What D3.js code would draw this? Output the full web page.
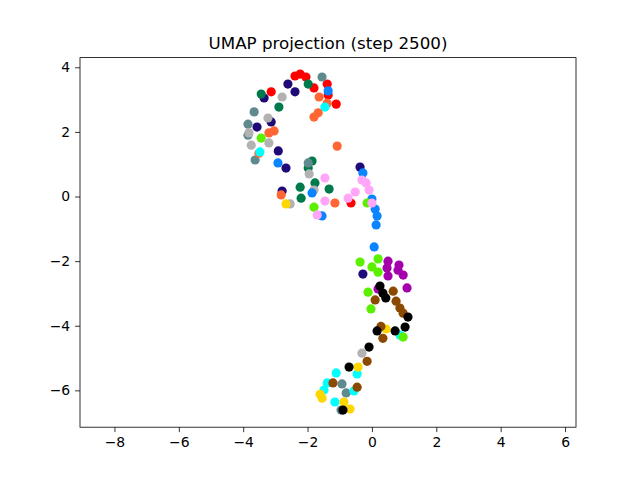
<!DOCTYPE html>
<html>
<head>
<meta charset="utf-8">
<script src="https://cdn.jsdelivr.net/npm/d3@7"></script>
<style>
  body { margin: 0; background: #fff; }
  svg { display: block; font-family: "DejaVu Sans", sans-serif; }
</style>
</head>
<body>
<svg id="chart" width="640" height="480"></svg>
<script>
const title = "UMAP projection (step 2500)";
const xTicks = [-8, -6, -4, -2, 0, 2, 4, 6];
const yTicks = [-6, -4, -2, 0, 2, 4];
const xDomain = [-9.07, 6.34];
const yDomain = [-7.14, 4.30];

const groups = ["red", "indigo", "green", "slate", "grey", "orange", "blue", "cyan", "lime", "pink", "magenta", "gold", "brown", "black"];

const redX = [-2.39, -2.23, -2.05, -1.80, -1.39, -1.36, -1.11, -3.13, -0.65];
const redY = [3.73, 3.79, 3.70, 3.36, 3.48, 3.14, 2.86, 3.24, -0.20];
const indigoX = [-2.61, -2.39, -3.35, -3.57, -3.13, -2.91, -2.67, -2.79, -0.37, -0.28];
const indigoY = [3.48, 3.24, 3.05, 2.15, 2.31, 1.41, 0.88, 0.17, 0.91, -2.40];
const greenX = [-1.98, -3.44, -2.89, -1.86, -1.98, -2.23, -1.77, -1.33, -2.20];
const greenY = [3.48, 3.17, 2.77, 1.10, 0.88, 0.29, 0.42, 0.23, -0.05];
const slateX = [-1.55, -3.66, -3.85, -3.85, -3.63, -1.98, -0.93, -0.80, -0.96];
const slateY = [3.70, 2.62, 2.24, 1.90, 1.13, 1.04, -5.80, -6.08, -6.61];
const greyX = [-2.79, -3.23, -3.82, -3.20, -3.75, -1.95, -1.80, -2.54, -0.31];
const greyY = [3.08, 2.43, 1.97, 1.66, 1.59, 0.70, 0.20, -0.23, -4.85];
const orangeX = [-1.64, -1.39, -1.67, -1.80, -1.08, -3.20, -3.04, -3.51, -2.82, -1.15];
const orangeY = [3.08, 2.89, 2.59, 2.46, 1.56, 1.97, 2.03, 1.34, 0.05, -0.20];
const blueX = [-1.36, -2.92, -1.86, -1.55, -0.28, 0.00, 0.10, 0.16, 0.13, 0.07];
const blueY = [3.27, 1.04, 0.11, -0.60, 0.73, -0.08, -0.39, -0.60, -0.88, -1.56];
const cyanX = [-1.46, -3.48, -1.11, -0.46, -1.39, -1.49, -0.56, -1.15, 0.87];
const cyanY = [2.77, 1.38, -5.46, -5.49, -5.77, -5.99, -6.02, -6.36, -4.29];
const limeX = [-3.44, -1.80, -0.15, -0.37, 0.19, 0.00, 0.19, -0.12, -0.03, 0.97];
const limeY = [1.81, -0.33, -0.20, -2.03, -1.93, -2.18, -2.34, -2.96, -3.48, -4.35];
const pinkX = [-1.46, -1.46, -1.70, -0.31, -0.18, -0.09, -0.52, -0.74, 0.00];
const pinkY = [0.57, -0.14, -0.57, 0.51, 0.42, 0.20, 0.14, -0.05, -0.20];
const magentaX = [0.50, 0.47, 0.50, 0.84, 0.81, 0.97, 1.09, 0.19];
const magentaY = [-2.00, -2.21, -2.46, -2.12, -2.28, -2.43, -2.83, -2.86];
const goldX = [-2.67, 0.44, -0.43, -1.61, -1.55, -0.87, -0.68];
const goldY = [-0.23, -4.10, -5.28, -6.12, -6.24, -6.36, -6.58];
const brownX = [0.66, 0.10, 0.75, 0.87, 0.97, 0.28, 0.34, -0.15, -1.21, -0.46];
const brownY = [-2.93, -3.20, -3.24, -3.45, -3.61, -4.02, -4.39, -5.10, -5.77, -5.90];
const blackX = [0.25, 0.34, 0.43, 1.12, 1.03, 0.16, 0.72, -0.09, -0.71, -0.90];
const blackY = [-2.77, -2.99, -3.14, -3.73, -4.04, -4.16, -4.16, -4.66, -5.28, -6.61];

const seriesX = [redX, indigoX, greenX, slateX, greyX, orangeX, blueX, cyanX, limeX, pinkX, magentaX, goldX, brownX, blackX];
const seriesY = [redY, indigoY, greenY, slateY, greyY, orangeY, blueY, cyanY, limeY, pinkY, magentaY, goldY, brownY, blackY];

const colors = {
  red: "#ff0000", indigo: "#200a78", green: "#007a4a", slate: "#5f8a8e",
  grey: "#b2b2b2", orange: "#ff6633", blue: "#0a84ff", cyan: "#00ffff",
  lime: "#5af000", pink: "#ffa6f8", magenta: "#a400ac", black: "#000000",
  brown: "#8b4a00", gold: "#ffd700"
};

const W = 640, H = 480;
const mLeft = 80, mRight = 576, mTop = 57.6, mBottom = 427.2;

const svg = d3.select("#chart");
svg.append("rect").attr("width", W).attr("height", H).attr("fill", "#fff");

const x = d3.scaleLinear().domain(xDomain).range([mLeft, mRight]);
const y = d3.scaleLinear().domain(yDomain).range([mBottom, mTop]);

const plot = svg.append("g");
plot.append("clipPath").attr("id", "clip").append("rect")
  .attr("x", mLeft).attr("y", mTop).attr("width", mRight - mLeft).attr("height", mBottom - mTop);

const dots = plot.append("g").attr("clip-path", "url(#clip)");
groups.forEach((g, i) => {
  const pts = seriesX[i].map((v, j) => [v, seriesY[i][j]]);
  dots.selectAll(null).data(pts).enter().append("circle")
    .attr("cx", d => x(d[0]))
    .attr("cy", d => y(d[1]))
    .attr("r", 4.6)
    .attr("fill", colors[g]);
});

const fmt = d => d3.format("")(d).replace("-", "\u2212");

const xAxis = svg.append("g").attr("transform", `translate(0,${mBottom})`)
  .call(d3.axisBottom(x).tickValues(xTicks).tickSize(4.9).tickPadding(4.9).tickFormat(fmt));
const yAxis = svg.append("g").attr("transform", `translate(${mLeft},0)`)
  .call(d3.axisLeft(y).tickValues(yTicks).tickSize(4.9).tickPadding(4.9).tickFormat(fmt));

[xAxis, yAxis].forEach(a => {
  a.select(".domain").remove();
  a.selectAll("line").attr("stroke", "#000").attr("stroke-width", 0.8);
  a.selectAll("text").attr("font-family", "DejaVu Sans, sans-serif").attr("font-size", 13.9).attr("fill", "#000");
});

svg.append("rect")
  .attr("x", mLeft).attr("y", mTop).attr("width", mRight - mLeft).attr("height", mBottom - mTop)
  .attr("fill", "none").attr("stroke", "#000").attr("stroke-width", 0.8);

svg.append("text")
  .attr("x", (mLeft + mRight) / 2).attr("y", 49)
  .attr("text-anchor", "middle")
  .attr("font-size", 16.7).attr("fill", "#000")
  .attr("font-family", "DejaVu Sans, sans-serif")
  .text(title);
</script>
</body>
</html>
